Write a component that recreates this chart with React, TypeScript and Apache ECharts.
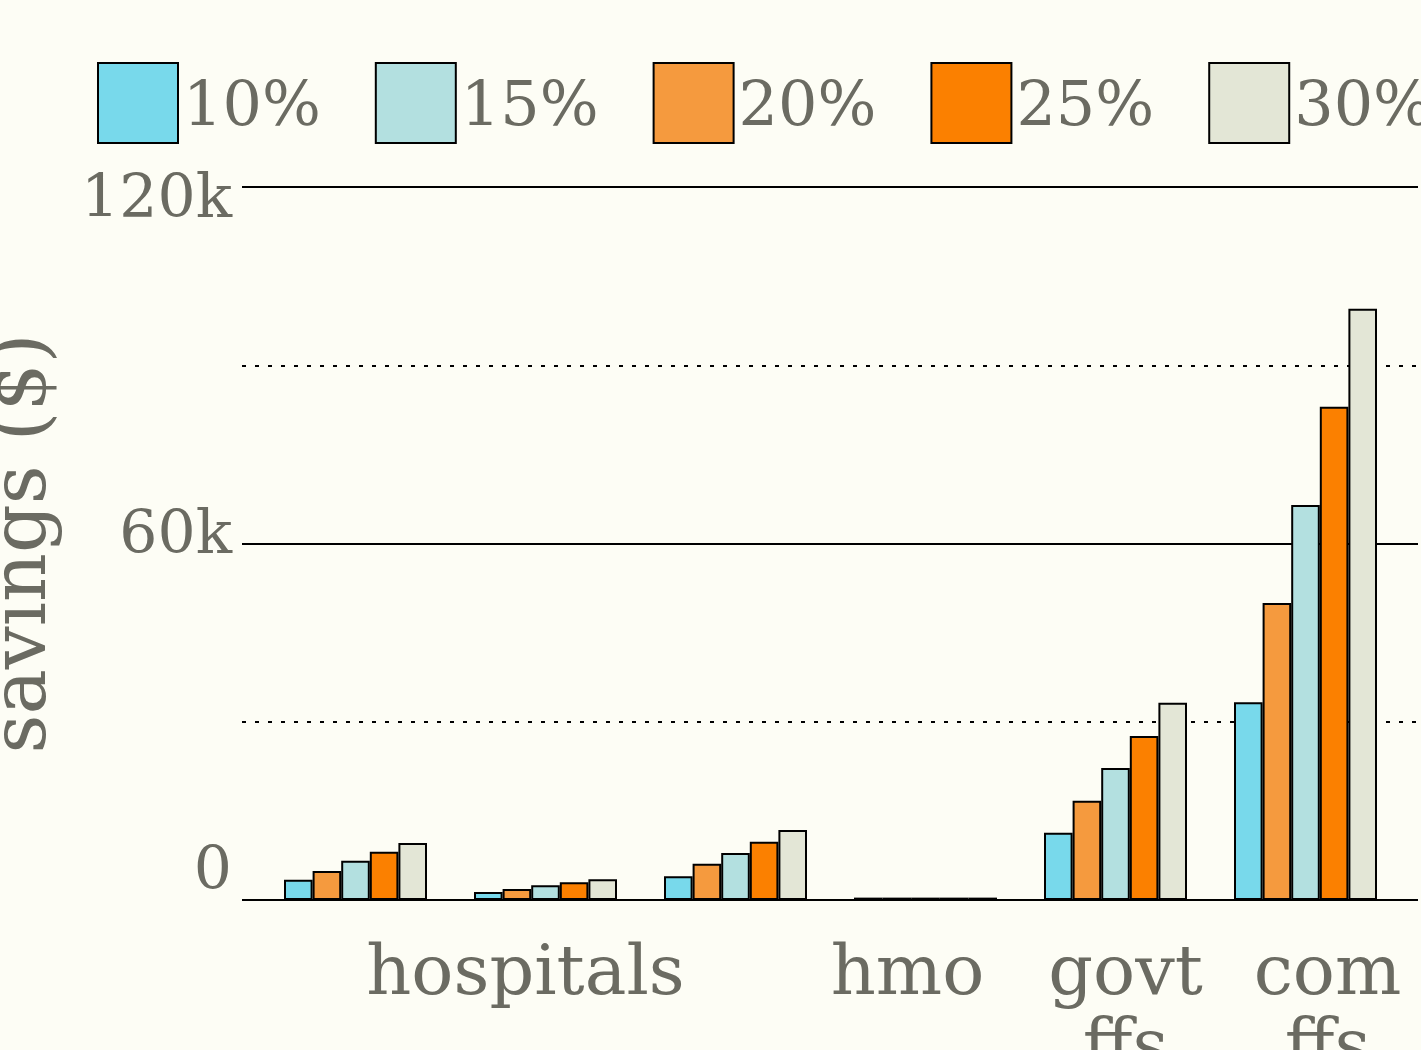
import React, { useEffect, useRef } from "react";
import * as echarts from "echarts";

const categories = [" ", "hospitals", "  ", "hmo", "govt\nffs", "com\nffs"];
const legendNames = ["10%", "15%", "20%", "25%", "30%"];
const values10 = [3400, 1350, 4000, 400, 11300, 33300];
const values20 = [4900, 1850, 6100, 400, 16700, 50000];
const values15 = [6600, 2500, 7900, 400, 22200, 66500];
const values25 = [8100, 3000, 9800, 400, 27600, 83000];
const values30 = [9600, 3500, 11800, 400, 33200, 99500];
const yTicks = [0, 60000, 120000];
const yTickLabels = ["0", "60k", "120k"];

const FONT = "DejaVu Serif";
const TEXT = "#6b6b62";
const colors: Record<string, string> = {
  "10%": "#78d9eb",
  "15%": "#b3e0e0",
  "20%": "#f59a3e",
  "25%": "#fb8000",
  "30%": "#e3e6d6",
};

const labelShift: Record<string, string> = {
  hospitals: "h",
  hmo: "m",
  "govt\nffs": "g",
  "com\nffs": "c",
};

export default function App() {
  const ref = useRef<HTMLDivElement>(null);
  useEffect(() => {
    document.body.style.margin = "0";
    const chart = echarts.init(ref.current!, null, { renderer: "svg" });
    const seriesDefs: [string, number[]][] = [
      ["10%", values10],
      ["20%", values20],
      ["15%", values15],
      ["25%", values25],
      ["30%", values30],
    ];
    const base = { fontFamily: FONT, fontSize: 70, color: TEXT, lineHeight: 74 };
    chart.setOption({
      animation: false,
      backgroundColor: "#fdfdf5",
      textStyle: { fontFamily: FONT },
      legend: {
        data: legendNames,
        left: 97,
        top: 62,
        padding: 0,
        width: 1600,
        itemWidth: 80,
        itemHeight: 80,
        itemGap: 54,
        icon: "rect",
        itemStyle: { borderColor: "#000", borderWidth: 2 },
        textStyle: { fontFamily: FONT, fontSize: 62, color: TEXT },
      },
      grid: [
        { left: 242, right: 3, top: 187, bottom: 150, outerBoundsMode: "none", containLabel: false },
        { left: 260.5, right: 20.5, top: 187, bottom: 150, outerBoundsMode: "none", containLabel: false },
        { left: 242, right: 3, top: 196, bottom: 182, outerBoundsMode: "none", containLabel: false },
      ],
      xAxis: [
        { type: "value", gridIndex: 0, show: false },
        {
          type: "category",
          gridIndex: 1,
          data: categories,
          axisLine: { show: false },
          axisTick: { show: false },
          axisLabel: {
            interval: 0,
            margin: 33,
            fontFamily: FONT,
            fontSize: 70,
            color: TEXT,
            lineHeight: 74,
            formatter: (v: string) => {
              const key = labelShift[v];
              if (!key) return "";
              return v
                .split("\n")
                .map((line) => `{${key}|${line}}`)
                .join("\n");
            },
            rich: {
              h: { ...base, padding: [0, 40, 0, 0] },
              m: { ...base, padding: [0, 36, 0, 0] },
              g: { ...base, padding: [0, 0, 0, 20] },
              c: { ...base, padding: [0, 0, 0, 44] },
            },
          },
        },
        { type: "value", gridIndex: 2, show: false },
      ],
      yAxis: [
        {
          type: "value",
          gridIndex: 0,
          min: yTicks[0],
          max: yTicks[yTicks.length - 1],
          interval: 60000,
          axisLine: { show: false },
          axisTick: { show: false },
          axisLabel: { show: false },
          splitLine: { show: true, lineStyle: { color: "#000", width: 2, type: "solid" } },
          minorTick: { show: false, splitNumber: 2 },
          minorSplitLine: { show: true, lineStyle: { color: "#000", width: 2, type: [4, 9] } },
          name: "savings ($)",
          nameLocation: "middle",
          nameGap: 186,
          nameTextStyle: { fontFamily: FONT, fontSize: 76, color: TEXT },
        },
        {
          type: "value",
          gridIndex: 1,
          min: yTicks[0],
          max: yTicks[yTicks.length - 1],
          show: false,
        },
        {
          type: "value",
          gridIndex: 2,
          min: yTicks[0],
          max: yTicks[yTicks.length - 1],
          interval: 60000,
          axisLine: { show: false },
          axisTick: { show: false },
          splitLine: { show: false },
          axisLabel: {
            margin: 10,
            fontFamily: FONT,
            fontSize: 60,
            color: TEXT,
            formatter: (v: number) => yTickLabels[yTicks.indexOf(v)] ?? "",
          },
        },
      ],
      series: seriesDefs.map(([name, data]) => ({
        type: "bar",
        name,
        xAxisIndex: 1,
        yAxisIndex: 1,
        data,
        barWidth: 28.6,
        barGap: "0%",
        itemStyle: { color: colors[name], borderColor: "#000", borderWidth: 2 },
      })),
    });
    return () => chart.dispose();
  }, []);
  return <div ref={ref} style={{ width: 1421, height: 1050 }} />;
}
